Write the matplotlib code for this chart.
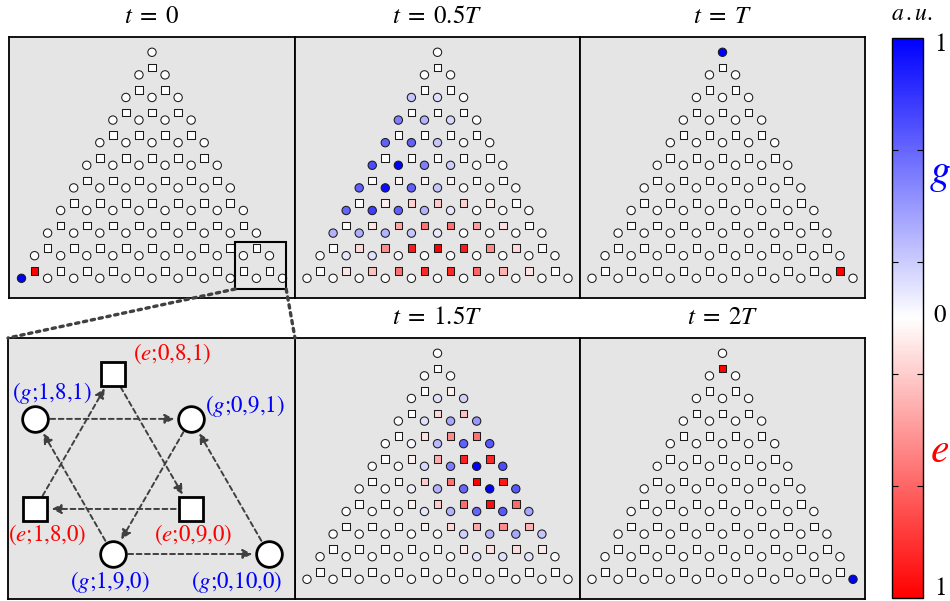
import numpy as np
import matplotlib
matplotlib.use("Agg")
import matplotlib.pyplot as plt
from matplotlib.colors import LinearSegmentedColormap
from matplotlib.patches import Rectangle, ConnectionPatch
from matplotlib.cm import ScalarMappable

plt.rcParams["mathtext.fontset"] = "stix"
plt.rcParams["font.family"] = ["STIXGeneral", "DejaVu Serif"]

N = 10  # total excitation number

# populations on the g sites (circles): one list per row n3 = 0 (bottom) .. 10 (top), left -> right
g_half = [
    [0, 0, 0, 0, 0, 0, 0, 0, 0, 0, 0],
    [0, 0.1, 0.12, 0.03, 0, 0, 0, 0, 0, 0],
    [0.3, 0.32, 0.3, 0.22, 0.08, 0, 0, 0, 0],
    [0.6, 0.75, 0.62, 0.3, 0.1, 0, 0, 0],
    [0.62, 0.95, 0.62, 0.22, 0, 0, 0],
    [0.7, 1.0, 0.5, 0.2, 0, 0],
    [0.62, 0.62, 0.22, 0.03, 0],
    [0.5, 0.3, 0.15, 0],
    [0.22, 0.12, 0],
    [0, 0],
    [0],
]
# populations on the e sites (squares): rows n3 = 0 .. 9
e_half = [
    [0, 0.1, 0.25, 0.55, 0.85, 0.85, 0.6, 0.3, 0.1, 0],
    [0, 0.15, 0.45, 0.9, 1.0, 0.9, 0.45, 0.15, 0],
    [0, 0.1, 0.35, 0.55, 0.55, 0.38, 0.12, 0],
    [0, 0.06, 0.18, 0.2, 0.18, 0.06, 0],
    [0, 0.03, 0.04, 0.03, 0, 0],
    [0, 0, 0, 0, 0],
    [0, 0, 0, 0],
    [0, 0, 0],
    [0, 0],
    [0],
]
g_three_half = [
    [0, 0, 0, 0, 0, 0, 0, 0, 0, 0, 0],
    [0, 0, 0, 0, 0, 0, 0.1, 0.12, 0.1, 0],
    [0, 0, 0, 0, 0, 0.18, 0.32, 0.35, 0.22],
    [0, 0, 0, 0.1, 0.3, 0.6, 0.65, 0.35],
    [0, 0, 0.05, 0.3, 0.6, 1.0, 0.65],
    [0, 0, 0.15, 0.5, 1.0, 0.7],
    [0, 0.03, 0.28, 0.62, 0.65],
    [0, 0.12, 0.35, 0.4],
    [0, 0.12, 0.18],
    [0, 0],
    [0],
]
e_three_half = [
    [0, 0, 0, 0, 0, 0, 0, 0, 0, 0],
    [0, 0, 0, 0, 0, 0.08, 0.12, 0.14, 0.08],
    [0, 0, 0, 0.04, 0.15, 0.35, 0.45, 0.3],
    [0, 0, 0.06, 0.2, 0.58, 0.95, 0.58],
    [0, 0.02, 0.2, 0.55, 1.0, 0.9],
    [0, 0.05, 0.32, 0.88, 0.85],
    [0, 0.12, 0.45, 0.55],
    [0, 0.15, 0.25],
    [0, 0.05],
    [0],
]
# single occupied sites (row n3, index in row, value)
g_t0 = [(0, 0, 1.0)]
e_t0 = [(0, 0, 1.0)]
g_tT = [(10, 0, 1.0)]
e_tT = [(0, 9, 1.0)]
g_t2T = [(0, 10, 1.0)]
e_t2T = [(9, 0, 1.0)]

titles = [r"$t\;=\;0$", r"$t\;=\;0.5T$", r"$t\;=\;T$", r"$t\;=\;1.5T$", r"$t\;=\;2T$"]

H = np.sqrt(3) / 2
cmap = LinearSegmentedColormap.from_list("rwb", [(1, 0, 0), (1, 1, 1), (0, 0, 1)])


def dense(sparse, nrows):
    grid = [[0.0] * (nrows - r) for r in range(nrows)]
    for r, i, v in sparse:
        grid[r][i] = v
    return grid


def lattice(m_top, yoff):
    xs, ys = [], []
    for n3 in range(m_top + 1):
        m = m_top - n3
        for n2 in range(m + 1):
            xs.append(n2 - m / 2)
            ys.append((n3 + yoff) * H)
    return np.array(xs), np.array(ys)


W, HGT = 950, 601
fig = plt.figure(figsize=(W / 100, HGT / 100), dpi=100)


def px_axes(x0, y0, x1, y1):
    return fig.add_axes([x0 / W, 1 - y1 / HGT, (x1 - x0) / W, (y1 - y0) / HGT])


def style(ax):
    ax.set_facecolor("#e5e5e5")
    ax.set_xticks([])
    ax.set_yticks([])
    for s in ax.spines.values():
        s.set_linewidth(1.3)
        s.set_color("black")


SC = 26.1  # pixels per lattice unit


def draw_lattice(ax, gvals, evals, w, h):
    style(ax)
    gx, gy = lattice(N, 0.0)
    ex, ey = lattice(N - 1, 1 / 3)
    ax.scatter(gx, gy, c=np.concatenate(gvals), cmap=cmap, vmin=-1, vmax=1,
               marker="o", s=36, edgecolors="0.1", linewidths=0.75, zorder=3)
    ax.scatter(ex, ey, c=-np.concatenate(evals), cmap=cmap, vmin=-1, vmax=1,
               marker="s", s=30, edgecolors="0.1", linewidths=0.75, zorder=3)
    ax.set_xlim(-w / (2 * SC), w / (2 * SC))
    y0 = -19.7 / SC
    ax.set_ylim(y0, y0 + h / SC)


cols = [(9, 295), (295, 580), (580, 865)]
top = (37, 298)
bot = (338, 599)

ax0 = px_axes(cols[0][0], top[0], cols[0][1], top[1])
ax1 = px_axes(cols[1][0], top[0], cols[1][1], top[1])
ax2 = px_axes(cols[2][0], top[0], cols[2][1], top[1])
ax4 = px_axes(cols[1][0], bot[0], cols[1][1], bot[1])
ax5 = px_axes(cols[2][0], bot[0], cols[2][1], bot[1])

panels = [
    (ax0, dense(g_t0, N + 1), dense(e_t0, N), cols[0], top),
    (ax1, g_half, e_half, cols[1], top),
    (ax2, dense(g_tT, N + 1), dense(e_tT, N), cols[2], top),
    (ax4, g_three_half, e_three_half, cols[1], bot),
    (ax5, dense(g_t2T, N + 1), dense(e_t2T, N), cols[2], bot),
]
for (ax, gv, ev, (c0, c1), (r0, r1)), title in zip(panels, titles):
    draw_lattice(ax, gv, ev, c1 - c0, r1 - r0)
    fig.text((c0 + c1) / 2 / W, 1 - (r0 - 20) / HGT, title, ha="center", va="center", fontsize=18)

# zoom box in the t = 0 panel
rx0, ry0, rx1, ry1 = 3.19, -0.41, 5.14, 1.39
ax0.add_patch(Rectangle((rx0, ry0), rx1 - rx0, ry1 - ry0, fill=False, lw=1.5, ec="black", zorder=4))

# inset panel with the unit cell
axi = px_axes(8, bot[0], 295, bot[1])
style(axi)
S2 = 156.0
axi.set_xlim(3.5 - 27 / S2, 3.5 - 27 / S2 + 287 / S2)
axi.set_ylim(-45 / S2, -45 / S2 + 261 / S2)

g_nodes = {"1,8,1": (3.5, H), "0,9,1": (4.5, H), "1,9,0": (4.0, 0.0), "0,10,0": (5.0, 0.0)}
e_nodes = {"0,8,1": (4.0, 4 / 3 * H), "1,8,0": (3.5, H / 3), "0,9,0": (4.5, H / 3)}
g_off = {"1,8,1": (17, 26), "0,9,1": (54, 13), "1,9,0": (-3, -28), "0,10,0": (-32, -28)}
e_off = {"0,8,1": (59, 20), "1,8,0": (12, -26), "0,9,0": (2, -26)}

for name, (x, y) in g_nodes.items():
    axi.plot(x, y, "o", ms=18.5, mfc="white", mec="black", mew=2.0, zorder=4)
    dx, dy = g_off[name]
    axi.annotate("($g$;" + name + ")", (x, y), xytext=(dx * 0.72, dy * 0.72), textcoords="offset points",
                 ha="center", va="center", color="blue", fontsize=16.5, zorder=5)
for name, (x, y) in e_nodes.items():
    axi.plot(x, y, "s", ms=17.5, mfc="white", mec="black", mew=2.0, zorder=4)
    dx, dy = e_off[name]
    axi.annotate("($e$;" + name + ")", (x, y), xytext=(dx * 0.72, dy * 0.72), textcoords="offset points",
                 ha="center", va="center", color="red", fontsize=16.5, zorder=5)

hops = [
    (g_nodes["1,8,1"], g_nodes["0,9,1"]),
    (e_nodes["0,9,0"], e_nodes["1,8,0"]),
    (g_nodes["1,9,0"], g_nodes["0,10,0"]),
    (e_nodes["1,8,0"], e_nodes["0,8,1"]),
    (e_nodes["0,8,1"], e_nodes["0,9,0"]),
    (g_nodes["0,9,1"], g_nodes["1,9,0"]),
    (g_nodes["1,9,0"], g_nodes["1,8,1"]),
    (g_nodes["0,10,0"], g_nodes["0,9,1"]),
]
for a, b in hops:
    axi.annotate("", xy=b, xytext=a,
                 arrowprops=dict(arrowstyle="-|>", mutation_scale=14, color="0.25", lw=1.4,
                                 linestyle=(0, (2.5, 1.8)), shrinkA=11, shrinkB=12), zorder=3)

# dotted connectors from the zoom box to the inset
for xa, xb in [(rx0, 0), (rx1, 1)]:
    con = ConnectionPatch(xyA=(xa, ry0), coordsA=ax0.transData, xyB=(xb, 1), coordsB=axi.transAxes,
                          color="0.25", lw=2.4, linestyle=(0, (1, 1.4)))
    fig.add_artist(con)

# colour bar
cax = px_axes(892, 38, 923, 598)
sm = ScalarMappable(cmap=cmap, norm=plt.Normalize(-1, 1))
cb = fig.colorbar(sm, cax=cax, ticks=[0.6, 0.2, -0.2, -0.6])
cb.outline.set_linewidth(1.0)
cax.yaxis.set_ticks_position("both")
cax.tick_params(direction="in", length=4, width=0.8, labelleft=False, labelright=False)
cb.set_ticklabels([])

fig.text(940 / W, 1 - 45 / HGT, "1", ha="center", va="center", fontsize=18)
fig.text(940 / W, 1 - 316 / HGT, "0", ha="center", va="center", fontsize=18)
fig.text(940 / W, 1 - 589 / HGT, "1", ha="center", va="center", fontsize=18)
fig.text(940 / W, 1 - 175 / HGT, "$g$", ha="center", va="center", fontsize=30, color="blue")
fig.text(940 / W, 1 - 452 / HGT, "$e$", ha="center", va="center", fontsize=30, color="red")
fig.text(912 / W, 1 - 14 / HGT, r"$a\,.u.$", ha="center", va="center", fontsize=17)

fig.savefig("out.png", dpi=100)
